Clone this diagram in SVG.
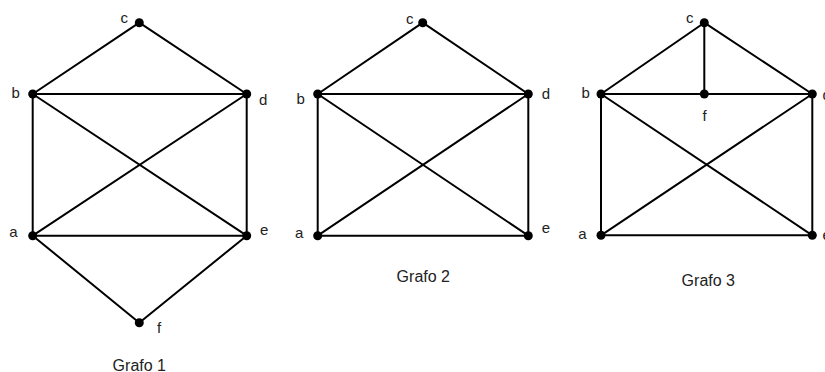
<svg xmlns="http://www.w3.org/2000/svg" width="825" height="372" viewBox="0 0 825 372">
<style>
.e{stroke:#000;stroke-width:2;fill:none;stroke-linecap:round}
.n circle{fill:#000}
text{font-family:"Liberation Sans",Arial,sans-serif;fill:#222}
.l{font-size:15px}
.t{font-size:16px;text-anchor:middle}
</style>
<rect width="825" height="372" fill="#fff"/>
<g id="connectors">
<g id="g1-edges">
<line class="e" x1="139.3" y1="22.7" x2="32.7" y2="94"/>
<line class="e" x1="139.3" y1="22.7" x2="246.7" y2="94"/>
<line class="e" x1="32.7" y1="94" x2="246.7" y2="94"/>
<line class="e" x1="32.7" y1="94" x2="32.7" y2="235.7"/>
<line class="e" x1="246.7" y1="94" x2="246.7" y2="235.7"/>
<line class="e" x1="32.7" y1="94" x2="246.7" y2="235.7"/>
<line class="e" x1="246.7" y1="94" x2="32.7" y2="235.7"/>
<line class="e" x1="32.7" y1="235.7" x2="246.7" y2="235.7"/>
<line class="e" x1="32.7" y1="235.7" x2="139.3" y2="322.7"/>
<line class="e" x1="246.7" y1="235.7" x2="139.3" y2="322.7"/>
</g>
<g id="g2-edges">
<line class="e" x1="422.7" y1="22.7" x2="317.7" y2="94"/>
<line class="e" x1="422.7" y1="22.7" x2="528.3" y2="94"/>
<line class="e" x1="317.7" y1="94" x2="528.3" y2="94"/>
<line class="e" x1="317.7" y1="94" x2="317.7" y2="235.7"/>
<line class="e" x1="528.3" y1="94" x2="528.3" y2="235.7"/>
<line class="e" x1="317.7" y1="94" x2="528.3" y2="235.7"/>
<line class="e" x1="528.3" y1="94" x2="317.7" y2="235.7"/>
<line class="e" x1="317.7" y1="235.7" x2="528.3" y2="235.7"/>
</g>
<g id="g3-edges">
<line class="e" x1="704.3" y1="22.7" x2="601" y2="94"/>
<line class="e" x1="704.3" y1="22.7" x2="812.3" y2="94"/>
<line class="e" x1="704.3" y1="22.7" x2="704.3" y2="94"/>
<line class="e" x1="601" y1="94" x2="704.3" y2="94"/>
<line class="e" x1="704.3" y1="94" x2="812.3" y2="94"/>
<line class="e" x1="601" y1="94" x2="601" y2="235.3"/>
<line class="e" x1="812.3" y1="94" x2="812.3" y2="235.3"/>
<line class="e" x1="601" y1="94" x2="812.3" y2="235.3"/>
<line class="e" x1="812.3" y1="94" x2="601" y2="235.3"/>
<line class="e" x1="601" y1="235.3" x2="812.3" y2="235.3"/>
</g>
</g>
<g id="grafo1">
<g id="g1-c" class="n"><circle cx="139.3" cy="22.7" r="4.5"/><text class="l" x="120.5" y="22.7">c</text></g>
<g id="g1-b" class="n"><circle cx="32.7" cy="94" r="4.5"/><text class="l" x="11.5" y="98.3">b</text></g>
<g id="g1-d" class="n"><circle cx="246.7" cy="94" r="4.5"/><text class="l" x="259" y="105">d</text></g>
<g id="g1-a" class="n"><circle cx="32.7" cy="235.7" r="4.5"/><text class="l" x="9.3" y="237.3">a</text></g>
<g id="g1-e" class="n"><circle cx="246.7" cy="235.7" r="4.5"/><text class="l" x="260" y="235">e</text></g>
<g id="g1-f" class="n"><circle cx="139.3" cy="322.7" r="4.5"/><text class="l" x="157" y="333.3">f</text></g>
<text class="t" x="139.3" y="370.5">Grafo 1</text>
</g>
<g id="grafo2">
<g id="g2-c" class="n"><circle cx="422.7" cy="22.7" r="4.5"/><text class="l" x="406" y="24">c</text></g>
<g id="g2-b" class="n"><circle cx="317.7" cy="94" r="4.5"/><text class="l" x="296.5" y="104">b</text></g>
<g id="g2-d" class="n"><circle cx="528.3" cy="94" r="4.5"/><text class="l" x="541.7" y="99.3">d</text></g>
<g id="g2-a" class="n"><circle cx="317.7" cy="235.7" r="4.5"/><text class="l" x="295" y="238.3">a</text></g>
<g id="g2-e" class="n"><circle cx="528.3" cy="235.7" r="4.5"/><text class="l" x="541.7" y="233">e</text></g>
<text class="t" x="423.3" y="281.7">Grafo 2</text>
</g>
<g id="grafo3">
<g id="g3-c" class="n"><circle cx="704.3" cy="22.7" r="4.5"/><text class="l" x="686" y="22.7">c</text></g>
<g id="g3-b" class="n"><circle cx="601" cy="94" r="4.5"/><text class="l" x="581.5" y="98.3">b</text></g>
<g id="g3-f" class="n"><circle cx="704.3" cy="94" r="4.5"/><text class="l" x="702.5" y="120.7">f</text></g>
<g id="g3-d" class="n"><circle cx="812.3" cy="94" r="4.5"/><text class="l" x="822.5" y="100">d</text></g>
<g id="g3-a" class="n"><circle cx="601" cy="235.3" r="4.5"/><text class="l" x="578.3" y="239.3">a</text></g>
<g id="g3-e" class="n"><circle cx="812.3" cy="235.3" r="4.5"/><text class="l" x="822.5" y="240">e</text></g>
<text class="t" x="708.3" y="286">Grafo 3</text>
</g>
</svg>
